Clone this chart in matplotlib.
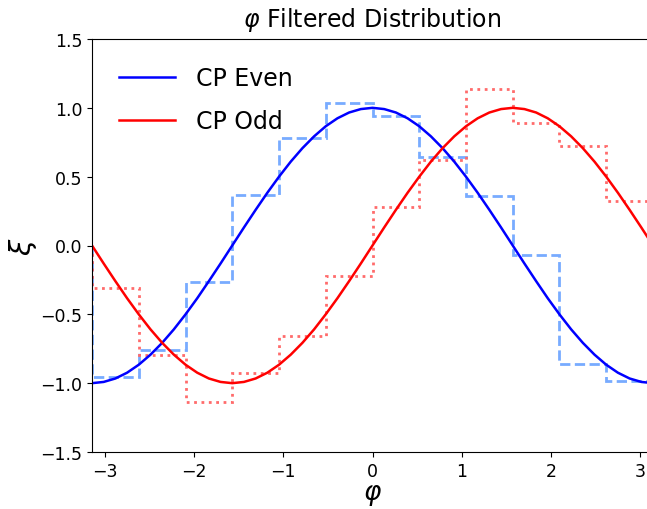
import matplotlib
matplotlib.use("Agg")
import matplotlib.pyplot as plt

# ---- data ----
phi = [-3.142, -3.011, -2.880, -2.749, -2.618, -2.487, -2.356, -2.225, -2.094,
       -1.963, -1.833, -1.702, -1.571, -1.440, -1.309, -1.178, -1.047, -0.916,
       -0.785, -0.654, -0.524, -0.393, -0.262, -0.131, 0.000, 0.131, 0.262,
       0.393, 0.524, 0.654, 0.785, 0.916, 1.047, 1.178, 1.309, 1.440, 1.571,
       1.702, 1.833, 1.963, 2.094, 2.225, 2.356, 2.487, 2.618, 2.749, 2.880,
       3.011, 3.142]
cp_even = [-1.000, -0.991, -0.966, -0.924, -0.866, -0.793, -0.707, -0.609, -0.500,
           -0.383, -0.259, -0.131, 0.000, 0.131, 0.259, 0.383, 0.500, 0.609,
           0.707, 0.793, 0.866, 0.924, 0.966, 0.991, 1.000, 0.991, 0.966,
           0.924, 0.866, 0.793, 0.707, 0.609, 0.500, 0.383, 0.259, 0.131, 0.000,
           -0.131, -0.259, -0.383, -0.500, -0.609, -0.707, -0.793, -0.866, -0.924,
           -0.966, -0.991, -1.000]
cp_odd = [0.000, -0.131, -0.259, -0.383, -0.500, -0.609, -0.707, -0.793, -0.866,
          -0.924, -0.966, -0.991, -1.000, -0.991, -0.966, -0.924, -0.866, -0.793,
          -0.707, -0.609, -0.500, -0.383, -0.259, -0.131, 0.000, 0.131, 0.259,
          0.383, 0.500, 0.609, 0.707, 0.793, 0.866, 0.924, 0.966, 0.991, 1.000,
          0.991, 0.966, 0.924, 0.866, 0.793, 0.707, 0.609, 0.500, 0.383, 0.259,
          0.131, 0.000]

bin_edges = [-3.142, -2.618, -2.094, -1.571, -1.047, -0.524, 0.0,
             0.524, 1.047, 1.571, 2.094, 2.618, 3.142]
even_filtered = [-0.953, -0.757, -0.267, 0.369, 0.780, 1.035,
                 0.943, 0.640, 0.360, -0.067, -0.860, -0.986]
odd_filtered = [-0.311, -0.795, -1.139, -0.926, -0.655, -0.219,
                0.277, 0.623, 1.134, 0.887, 0.725, 0.321]

y_ticks = [-1.5, -1.0, -0.5, 0.0, 0.5, 1.0, 1.5]
x_ticks = [-3, -2, -1, 0, 1, 2, 3]

# ---- figure ----
fig = plt.figure(figsize=(6.47, 5.10), dpi=100)
ax = fig.add_axes([92 / 647, 57 / 510, 561 / 647, 413 / 510])

ax.stairs(even_filtered, bin_edges, baseline=0, color=(0.47, 0.67, 1.0),
          linestyle='--', linewidth=2)
ax.stairs(odd_filtered, bin_edges, baseline=0, color=(1.0, 0.42, 0.42),
          linestyle=':', linewidth=2)
ax.plot(phi, cp_even, color='blue', linewidth=1.8, label='CP Even')
ax.plot(phi, cp_odd, color='red', linewidth=1.8, label='CP Odd')

ax.set_xlim(-3.142, 3.142)
ax.set_ylim(-1.5, 1.5)
ax.set_xticks(x_ticks)
ax.set_yticks(y_ticks)
ax.set_yticklabels([f"{v:.1f}".replace('-', '\u2212') for v in y_ticks])
ax.tick_params(labelsize=12.5)
ax.spines['right'].set_visible(False)

ax.set_title(r'$\varphi$ Filtered Distribution', fontsize=17, pad=9)
ax.set_xlabel(r'$\varphi$', fontsize=19, labelpad=1)
ax.set_ylabel(r'$\xi$', fontsize=21, labelpad=1)

ax.legend(loc='upper left', frameon=False, fontsize=17, handlelength=2.35,
          labelspacing=0.8, handletextpad=0.9, borderaxespad=0.75)

fig.savefig('out.png', dpi=100)
